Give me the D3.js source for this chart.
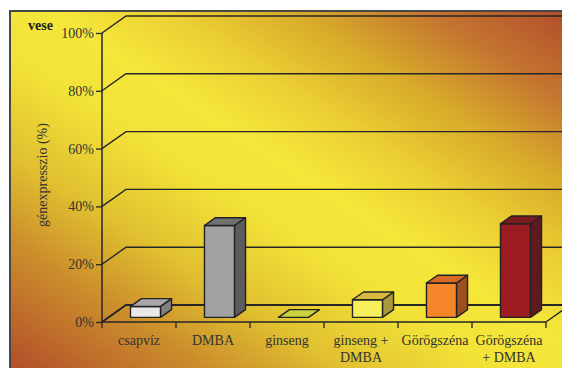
<!DOCTYPE html>
<html>
<head>
<meta charset="utf-8">
<script src="https://cdn.jsdelivr.net/npm/d3@7"></script>
<style>
  html, body { margin: 0; padding: 0; background: #fff; }
  svg { display: block; }
  text { font-family: "Liberation Serif", "DejaVu Serif", serif; }
</style>
</head>
<body>
<div id="chart"></div>
<script>
// data
var categories = [["csapvíz"], ["DMBA"], ["ginseng"], ["ginseng +", "DMBA"], ["Görögszéna"], ["Görögszéna", "+ DMBA"]];
var values = [3.8, 31.8, 0, 6.1, 11.9, 32.4];
var yTicks = [0, 20, 40, 60, 80, 100];

// front, top, side colours of each bar
var palette = [
  ["#e8e8e8", "#a8a8a8", "#808080"],
  ["#a2a2a2", "#707070", "#5c5c5c"],
  ["#c9d33c", "#c9d33c", "#a0a030"],
  ["#f7ef5c", "#d8b840", "#a89a38"],
  ["#f5862a", "#d66a25", "#9c5020"],
  ["#9c1c22", "#7c1a1f", "#5e1a1f"]
];

var W = 562, H = 368;
var svg = d3.select("#chart").append("svg").attr("width", W).attr("height", H);

// background gradient
var defs = svg.append("defs");
var grad = defs.append("linearGradient").attr("id", "bg")
  .attr("x1", 0).attr("y1", 1).attr("x2", 1).attr("y2", 0);
[[0, "#b24e2a"], [0.18, "#cc8e2c"], [0.3, "#e0c030"], [0.44, "#f3e338"], [0.54, "#f5e63a"],
 [0.64, "#ecd034"], [0.76, "#d8aa2a"], [0.88, "#c47430"], [1, "#b24e2a"]].forEach(function(s){
  grad.append("stop").attr("offset", s[0]).attr("stop-color", s[1]);
});

svg.append("rect").attr("x", 10).attr("y", 11).attr("width", W - 10).attr("height", H - 11)
  .attr("fill", "url(#bg)");
svg.append("path").attr("d", "M10," + H + "V11H" + W)
  .attr("fill", "none").attr("stroke", "#474747").attr("stroke-width", 2);

// scales
var x = d3.scaleBand().domain(d3.range(categories.length)).range([102, 546]);
var y = d3.scaleLinear().domain([0, 100]).range([322, 33]);
var dx = 24, dy = -17;       // depth of the plot
var f0 = 0.27, f1 = 0.73;    // bar depth as part of it
var barW = 30;

var line = "#262626";

// back wall grid lines
var grid = svg.append("g");
yTicks.forEach(function(t){
  var yy = y(t);
  grid.append("path")
    .attr("d", "M102," + yy + "L" + (102 + dx) + "," + (yy + dy) + "H" + (W + 10))
    .attr("fill", "none").attr("stroke", line).attr("stroke-width", t === 0 ? 2 : 1.4);
});

// floor right edge
svg.append("path")
  .attr("d", "M546," + y(0) + "L" + (546 + dx) + "," + (y(0) + dy))
  .attr("fill", "none").attr("stroke", line).attr("stroke-width", 1.3);

// bars
var bars = svg.append("g");
values.forEach(function(v, i){
  var c = palette[i];
  var xl = x(i) + (x.bandwidth() - barW) / 2 + dx * f0;
  var xr = xl + barW;
  var yb = y(0) + dy * f0;
  var yt = y(v) + dy * f0;
  var ox = dx * (f1 - f0), oy = dy * (f1 - f0);
  var g = bars.append("g").attr("stroke", "#222").attr("stroke-width", 1.4).attr("stroke-linejoin", "round");
  if (v > 0) {
    g.append("path").attr("fill", c[2])
      .attr("d", "M" + xr + "," + yb + "L" + (xr + ox) + "," + (yb + oy) + "L" + (xr + ox) + "," + (yt + oy) + "L" + xr + "," + yt + "Z");
    g.append("rect").attr("fill", c[0]).attr("x", xl).attr("y", yt).attr("width", barW).attr("height", yb - yt);
  }
  g.append("path").attr("fill", c[1])
    .attr("d", "M" + xl + "," + yt + "L" + (xl + ox) + "," + (yt + oy) + "H" + (xr + ox) + "L" + xr + "," + yt + "Z");
});

// front floor edge and axis
svg.append("path").attr("d", "M102,33V" + y(0) + "H546")
  .attr("fill", "none").attr("stroke", line).attr("stroke-width", 1.5);

// category ticks
d3.range(categories.length + 1).forEach(function(i){
  var xx = i < categories.length ? x(i) : x.range()[1];
  svg.append("line").attr("x1", xx).attr("x2", xx).attr("y1", y(0)).attr("y2", y(0) + 6)
    .attr("stroke", line).attr("stroke-width", 1.3);
});

// y axis ticks + labels
var yAxis = svg.append("g").attr("transform", "translate(102,0)")
  .call(d3.axisLeft(y).tickValues(yTicks).tickSize(6).tickPadding(2).tickFormat(function(d){ return d + "%"; }));
yAxis.select(".domain").remove();
yAxis.selectAll(".tick line").attr("stroke", line).attr("stroke-width", 1.3);
yAxis.selectAll(".tick text").attr("fill", "#333").style("font-size", "14px")
  .style("font-family", '"Liberation Serif", serif');

// category labels
categories.forEach(function(lines, i){
  var t = svg.append("text").attr("text-anchor", "middle").attr("fill", "#333").style("font-size", "14px");
  lines.forEach(function(s, k){
    t.append("tspan").attr("x", x(i) + x.bandwidth() / 2).attr("y", 345 + k * 17).text(s);
  });
});

// titles
svg.append("text").attr("x", 28).attr("y", 29.5).attr("font-weight", "bold")
  .style("font-size", "14px").attr("fill", "#222").text("vese");
svg.append("text").attr("transform", "translate(47,175) rotate(-90)")
  .attr("text-anchor", "middle").style("font-size", "14px").attr("fill", "#333")
  .text("génexpresszio (%)");
</script>
</body>
</html>
